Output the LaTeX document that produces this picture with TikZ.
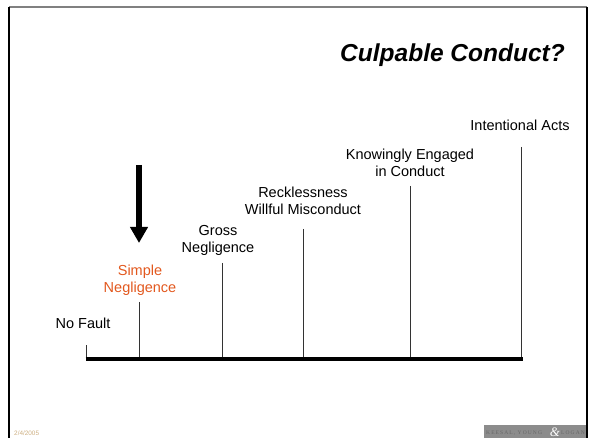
\documentclass[tikz,border=0pt]{standalone}
\usepackage{fontspec}
\setmainfont{Liberation Sans}
\newfontfamily\logofont[LetterSpace=20]{Liberation Serif}
\newfontfamily\ampfont{Liberation Serif}
\usetikzlibrary{arrows.meta}
\definecolor{simpleorange}{RGB}{226,88,30}
\definecolor{datetan}{RGB}{205,175,130}
\definecolor{logogray}{RGB}{140,140,140}
\tikzset{
  lbl/.style={inner sep=0pt, anchor=base, align=center, font=\fontsize{14.5}{17}\selectfont},
  tickline/.style={line width=1pt, draw=black!80},
}

\begin{document}
\begin{tikzpicture}[x=1pt,y=1pt,yscale=-1,xscale=1]
\useasboundingbox (0,0) rectangle (589,438);

%Frame
\draw [line width=1.3pt, draw=black!50] (9,7) -- (587,7) ;
\draw [line width=1.3pt] (9,7) -- (9,438) ;
\draw [line width=1.3pt] (587,7) -- (587,438) ;

%Tick points on the scale
\coordinate (b0) at (86,359);  \coordinate (t0) at (86,345);
\coordinate (b1) at (139,359); \coordinate (t1) at (139,302);
\coordinate (b2) at (222,359); \coordinate (t2) at (222,263);
\coordinate (b3) at (303,359); \coordinate (t3) at (303,229);
\coordinate (b4) at (410,359); \coordinate (t4) at (410,186);
\coordinate (b5) at (521,359); \coordinate (t5) at (521,147);

%Straight Lines
\draw [tickline] (t0) -- (b0) ;
\draw [tickline] (t1) -- (b1) ;
\draw [tickline] (t2) -- (b2) ;
\draw [tickline] (t3) -- (b3) ;
\draw [tickline] (t4) -- (b4) ;
\draw [tickline] (t5) -- (b5) ;
%Scale
\draw [line width=4.5pt] (85.5,359) -- (522.5,359) ;

%Arrow
\coordinate (arrtop) at (139,165);
\coordinate (arrtip) at (139,243);
\draw [line width=5.5pt, -{Triangle[width=17pt,length=16pt]}] (arrtop) -- (arrtip) ;

% Text Node
\draw (565,62) node (title) [anchor=base east, inner sep=0pt, font=\fontsize{24.5}{28}\selectfont\bfseries\itshape] {Culpable Conduct?};
% Text Node
\draw (83,329) node (nofault) [lbl] {No Fault};
% Text Node
\draw (140,293) node (simple) [lbl, text=simpleorange] {Simple\\Negligence};
% Text Node
\draw (218,253) node (gross) [lbl] {Gross\\Negligence};
% Text Node
\draw (303,215) node (reckless) [lbl] {Recklessness\\Willful Misconduct};
% Text Node
\draw (410,177) node (knowingly) [lbl] {Knowingly Engaged\\in Conduct};
% Text Node
\draw (520,131) node (intent) [lbl] {Intentional Acts};

% Text Node
\draw (14,435) node (date) [anchor=base west, inner sep=0pt, text=datetan, font=\fontsize{6.4}{7}\selectfont] {2/4/2005};

%Logo
\fill [logogray] (484,425) rectangle (586,438) ;
\draw (486,434) node (firm) [anchor=base west, inner sep=0pt, text=black!60, font=\logofont\fontsize{5.5}{6}\selectfont] {KEESAL, YOUNG};
\draw (555,436) node (amp) [anchor=base, inner sep=0pt, text=white, font=\ampfont\itshape\fontsize{13}{14}\selectfont] {\&};
\draw (585,434) node (logan) [anchor=base east, inner sep=0pt, text=black!60, font=\logofont\fontsize{5.5}{6}\selectfont] {LOGAN};

\end{tikzpicture}
\end{document}
